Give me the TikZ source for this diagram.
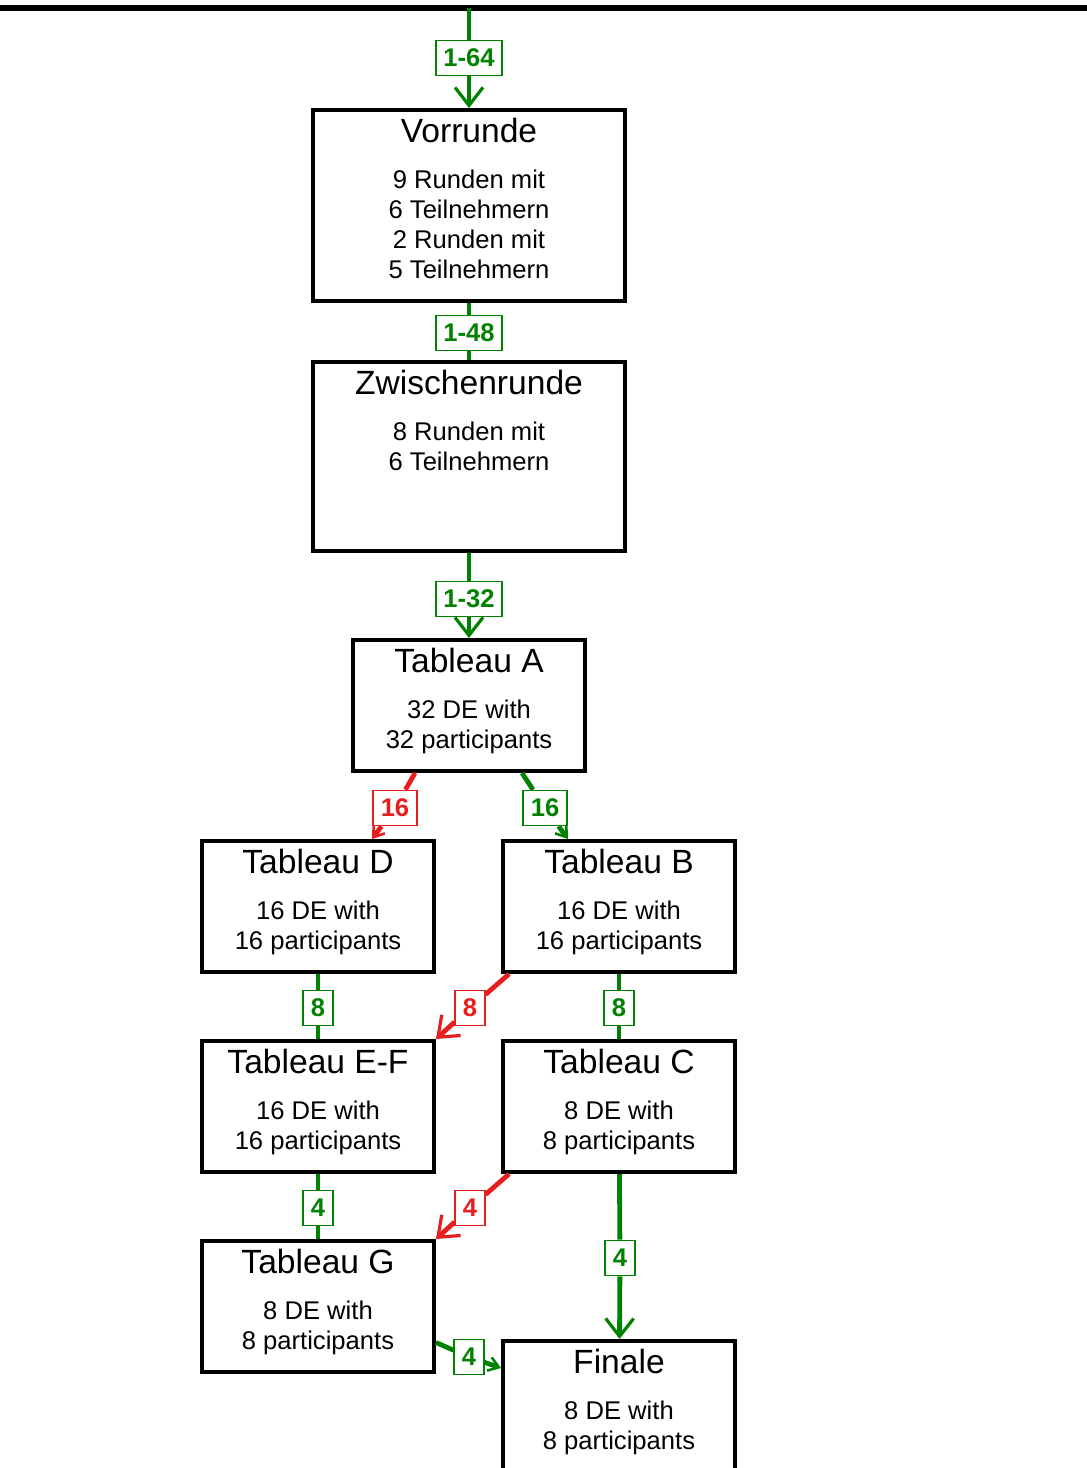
\documentclass[tikz,border=0pt]{standalone}
\usepackage{fontspec}
\setmainfont{Liberation Sans}
\usetikzlibrary{arrows.meta}
\definecolor{wingreen}{RGB}{0,130,0}
\definecolor{losered}{RGB}{230,30,30}

\tikzset{
  stage/.style={draw, line width=2pt, minimum width=116pt, minimum height=65.5pt, anchor=north, inner sep=0pt},
  widestage/.style={stage, minimum width=156pt},
  stagetext/.style={anchor=north, align=center, inner sep=0pt, font=\fontsize{12.8}{15}\selectfont},
  count/.style={draw, line width=0.8pt, fill=white, inner xsep=3.8pt, inner ysep=0pt, minimum height=17.5pt, font=\bfseries\fontsize{12.8}{15}\selectfont},
  win/.style={count, draw=wingreen, text=wingreen},
  lose/.style={count, draw=losered, text=losered},
  flow/.style={line width=2.4pt},
  small/.style={-{Straight Barb[length=5pt, width=7pt, line width=1.3pt]}},
}
\newcommand{\stagetitle}[1]{{\fontsize{16.8}{20}\selectfont #1}\\[8pt]}

\begin{document}
\begin{tikzpicture}[x=0.5pt, y=-0.5pt, >={Straight Barb[length=9pt, width=14pt, line width=1.6pt]}]
  \useasboundingbox (0,0) rectangle (1087,1468);
  \clip (0,0) rectangle (1087,1468);

  % top bar
  \draw[line width=2.6pt] (0,8) -- (1087,8);
  \coordinate (top) at (469,8);

  % stages
  \node[widestage, minimum height=95.5pt] (vor) at (469,108) {};
  \node[stagetext] (vor-t) at ([yshift=-4.7pt]vor.north) {\stagetitle{Vorrunde}9 Runden mit\\6 Teilnehmern\\2 Runden mit\\5 Teilnehmern};
  \node[widestage, minimum height=94.5pt] (zw) at (469,360) {};
  \node[stagetext] (zw-t) at ([yshift=-4.7pt]zw.north) {\stagetitle{Zwischenrunde}8 Runden mit\\6 Teilnehmern};
  \node[stage] (ta) at (469,638) {};
  \node[stagetext] (ta-t) at ([yshift=-4.7pt]ta.north) {\stagetitle{Tableau A}32 DE with\\32 participants};
  \node[stage] (td) at (318,839) {};
  \node[stagetext] (td-t) at ([yshift=-4.7pt]td.north) {\stagetitle{Tableau D}16 DE with\\16 participants};
  \node[stage] (tb) at (619,839) {};
  \node[stagetext] (tb-t) at ([yshift=-4.7pt]tb.north) {\stagetitle{Tableau B}16 DE with\\16 participants};
  \node[stage] (tef) at (318,1039) {};
  \node[stagetext] (tef-t) at ([yshift=-4.7pt]tef.north) {\stagetitle{Tableau E-F}16 DE with\\16 participants};
  \node[stage] (tc) at (619,1039) {};
  \node[stagetext] (tc-t) at ([yshift=-4.7pt]tc.north) {\stagetitle{Tableau C}8 DE with\\8 participants};
  \node[stage] (tg) at (318,1239) {};
  \node[stagetext] (tg-t) at ([yshift=-4.7pt]tg.north) {\stagetitle{Tableau G}8 DE with\\8 participants};
  \node[stage, minimum height=90pt] (fin) at (619,1339) {};
  \node[stagetext] (fin-t) at ([yshift=-4.7pt]fin.north) {\stagetitle{Finale}8 DE with\\8 participants};

  % counts
  \node[win] (n164) at (469,58) {1-64};
  \node[win] (n148) at (469,333) {1-48};
  \node[win] (n132) at (469,599) {1-32};
  \node[lose] (n16d) at (395,808) {16};
  \node[win] (n16b) at (545,808) {16};
  \node[win] (n8d) at (318,1008) {8};
  \node[lose] (n8r) at (470,1008) {8};
  \node[win] (n8b) at (619,1008) {8};
  \node[win] (n4g) at (318,1208) {4};
  \node[lose] (n4r) at (470,1208) {4};
  \node[win] (n4f) at (620,1258) {4};
  \node[win] (n4q) at (469,1357) {4};

  % flow
  \draw[flow, wingreen, ->] (top) -- (n164) -- (vor);
  \draw[flow, wingreen] (vor) -- (n148) -- (zw);
  \draw[flow, wingreen, ->] (zw) -- (n132) -- (ta);
  \draw[flow, losered, small] ([xshift=-27pt]ta.south) -- (n16d) -- ([xshift=27pt]td.north);
  \draw[flow, wingreen, small] ([xshift=26.5pt]ta.south) -- (n16b) -- ([xshift=-25.5pt]tb.north);
  \draw[flow, wingreen] (td) -- (n8d) -- (tef);
  \draw[flow, losered, ->] ([xshift=4pt]tb.south west) -- (n8r) -- (tef.north east);
  \draw[flow, wingreen] (tb) -- (n8b) -- (tc);
  \draw[flow, wingreen] (tef) -- (n4g) -- (tg);
  \draw[flow, losered, ->] ([xshift=4pt]tc.south west) -- (n4r) -- (tg.north east);
  \draw[flow, wingreen, ->] (tc) -- (n4f) -- (fin);
  \draw[flow, wingreen, small] ([yshift=-18pt]tg.east) -- (n4q) -- ([yshift=-14.5pt]fin.north west);
\end{tikzpicture}
\end{document}
